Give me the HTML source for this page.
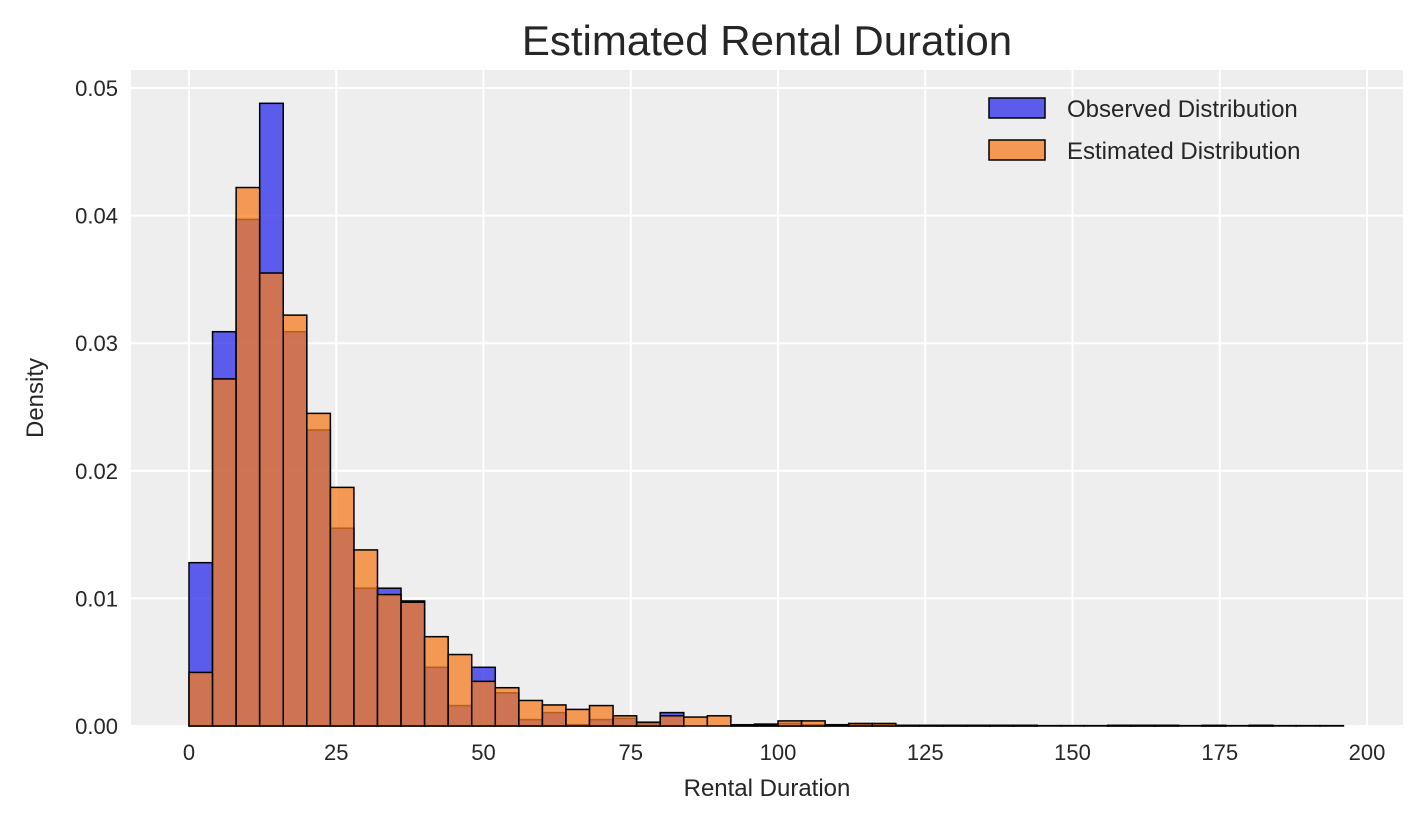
<!DOCTYPE html>
<html><head><meta charset="utf-8"><style>
html,body{margin:0;padding:0;background:#fff;}
svg{display:block;font-family:"Liberation Sans","DejaVu Sans",sans-serif;}
</style></head><body>
<svg id="chart" width="1423" height="823" viewBox="0 0 1423 823" xmlns="http://www.w3.org/2000/svg">
<rect x="0" y="0" width="1423" height="823" fill="#fff"/>
<text x="767" y="55" font-size="42" text-anchor="middle" fill="#262626">Estimated Rental Duration</text>
<rect x="131" y="70" width="1272" height="656" fill="#eeeeee"/>
<g id="grid"></g>
<g id="obs"></g>
<g id="est"></g>
<g id="ticks"></g>
<text x="767" y="796" font-size="24" text-anchor="middle" fill="#262626">Rental Duration</text>
<text transform="translate(43,398) rotate(-90)" font-size="24" text-anchor="middle" fill="#262626">Density</text>
<g>
<g>
<rect x="989" y="98" width="56" height="20" fill="#2a2aeb" fill-opacity="0.75" stroke="#000" stroke-width="1.5"/>
<text x="1067" y="117" font-size="24" fill="#262626">Observed Distribution</text>
</g>
<g>
<rect x="989" y="140" width="56" height="20" fill="#f57c1f" fill-opacity="0.75" stroke="#000" stroke-width="1.5"/>
<text x="1067" y="159" font-size="24" fill="#262626">Estimated Distribution</text>
</g>
</g>
</svg>
<script>
const binStart = 0;
const binWidth = 4;
const observed = [0.0128,0.0309,0.0397,0.0488,0.0309,0.0232,0.0155,0.0108,0.0108,0.0098,0.0046,0.0016,0.0046,0.0026,0.0005,0.00105,0.0001,0.0005,0.0006,0.0002,0.00105,0,0,0.0001,0.00015,0.0002,0.0001,0.0001,0.0001,0.0001,0.00005,0.00005,0.00005,0.00005,0.00005,0.00005,0,0,0,0.00005,0.00005,0.00005,0,0.00005,0,0.00005,0,0,0];
const estimated = [0.0042,0.0272,0.0422,0.0355,0.0322,0.0245,0.0187,0.0138,0.0103,0.0097,0.0070,0.0056,0.0035,0.0030,0.0020,0.00165,0.0013,0.0016,0.0008,0.0003,0.0008,0.0007,0.0008,0.00005,0.0001,0.0004,0.0004,0.0001,0.0002,0.0002,0.00005,0.00005,0.00005,0.00005,0.00005,0.00005,0.00003,0.00003,0.00003,0.00005,0.00005,0.00005,0.00003,0.00003,0.00003,0.00005,0.00003,0.00003,0.00003];
const xTicks = [0,25,50,75,100,125,150,175,200];
const yTicks = [0,0.01,0.02,0.03,0.04,0.05];

const NS = "http://www.w3.org/2000/svg";
const xScale = v => 189 + (v - 0) * (1367 - 189) / 200;
const yScale = v => 726 - v * (726 - 88) / 0.05;

const grid = document.getElementById('grid');
const ticks = document.getElementById('ticks');
xTicks.forEach(t => {
  const l = document.createElementNS(NS, 'line');
  
  
  l.setAttribute('x1', xScale(t)); l.setAttribute('x2', xScale(t));
  l.setAttribute('y1', 70); l.setAttribute('y2', 726);
  l.setAttribute('stroke', '#fff'); l.setAttribute('stroke-width', '2');
  grid.appendChild(l);
  const tx = document.createElementNS(NS, 'text');
  
  
  tx.setAttribute('x', xScale(t)); tx.setAttribute('y', 760);
  tx.setAttribute('font-size', '22'); tx.setAttribute('text-anchor', 'middle'); tx.setAttribute('fill', '#262626');
  tx.textContent = t;
  ticks.appendChild(tx);
});
yTicks.forEach(t => {
  const l = document.createElementNS(NS, 'line');
  
  
  l.setAttribute('x1', 131); l.setAttribute('x2', 1403);
  l.setAttribute('y1', yScale(t)); l.setAttribute('y2', yScale(t));
  l.setAttribute('stroke', '#fff'); l.setAttribute('stroke-width', '2');
  grid.appendChild(l);
  const tx = document.createElementNS(NS, 'text');
  
  
  tx.setAttribute('x', 118); tx.setAttribute('y', yScale(t) + 8);
  tx.setAttribute('font-size', '22'); tx.setAttribute('text-anchor', 'end'); tx.setAttribute('fill', '#262626');
  tx.textContent = t.toFixed(2);
  ticks.appendChild(tx);
});
function drawBars(arr, gid, color, name) {
  const g = document.getElementById(gid);
  arr.forEach((v, i) => {
    if (v <= 0) return;
    const x0 = xScale(binStart + i * binWidth), x1 = xScale(binStart + (i + 1) * binWidth);
    const r = document.createElementNS(NS, 'rect');
    
    
    r.setAttribute('x', x0); r.setAttribute('width', x1 - x0);
    r.setAttribute('y', yScale(v)); r.setAttribute('height', 726 - yScale(v));
    r.setAttribute('fill', color); r.setAttribute('fill-opacity', '0.75');
    r.setAttribute('stroke', '#000'); r.setAttribute('stroke-width', '1.5');
    g.appendChild(r);
  });
}
drawBars(observed, 'obs', '#2a2aeb', 'observed-bar');
drawBars(estimated, 'est', '#f57c1f', 'estimated-bar');
</script>
</body></html>
